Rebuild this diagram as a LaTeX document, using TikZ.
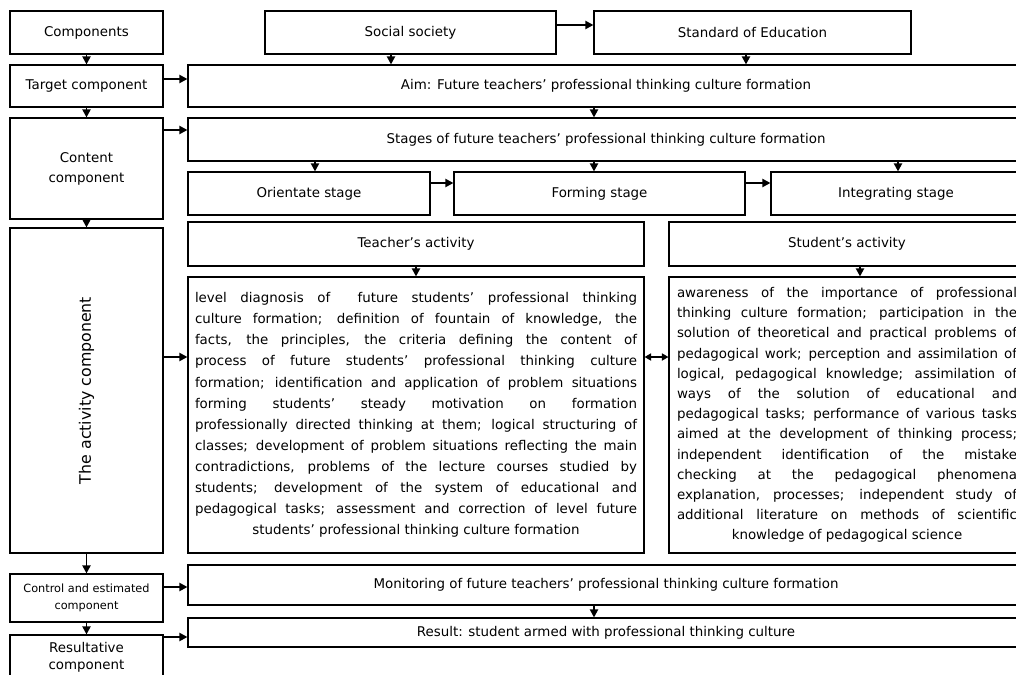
\documentclass[tikz,border=0pt]{standalone}
\usepackage{fontspec}
\setmainfont{DejaVu Sans}
\usetikzlibrary{arrows.meta}
\tolerance=10000 \hbadness=10000 \hyphenpenalty=10000
\newcommand\fsz{\fontsize{13.4}{20}\selectfont}
\begin{document}
\begin{tikzpicture}[x=1pt,y=-1pt,
  box/.style={draw, line width=1.1pt, inner sep=0pt, align=center, font=\fsz},
  arr/.style={line width=1.9pt,-{Triangle[length=8pt,width=8pt]}},
  darr/.style={line width=1.9pt,{Triangle[length=6.5pt,width=7pt]}-{Triangle[length=6.5pt,width=7pt]}},
  body/.style={draw, line width=1.1pt, inner ysep=0pt, align=justify},
]
\useasboundingbox (0,0) rectangle (1016,674);
\clip (0,0) rectangle (1016,674);
% left column
\node[box, minimum width=153pt, minimum height=43pt] (comp) at (86.5,32.5) {Components};
\node[box, minimum width=153pt, minimum height=42pt] (target) at (86.5,86) {Target component};
\node[box, minimum width=153pt, minimum height=101pt] (content) at (86.5,168.5) {Content\\component};
\node[box, minimum width=153pt, minimum height=325pt, font=\fontsize{15.8}{19}\selectfont] (activity) at (86.5,390.5) {\rotatebox{90}{The activity component}};
\node[box, minimum width=153pt, minimum height=48pt, font=\fontsize{11.3}{16.5}\selectfont] (control) at (86.5,598) {Control and estimated\\component};
\node[box, minimum width=153pt, minimum height=45pt, font=\fontsize{13.4}{16.5}\selectfont] (rcomp) at (86.5,657.5) {Resultative\\component};
% top row
\node[box, minimum width=291pt, minimum height=43pt] (social) at (410.5,32.5) {Social society};
\node[box, minimum width=317pt, minimum height=43pt] (standard) at (752.5,32.5) {Standard of Education};
\node[box, minimum width=836pt, minimum height=42pt] (aim) at (606,86) {Aim: Future teachers’ professional thinking culture formation};
\node[box, minimum width=836pt, minimum height=43pt] (stages) at (606,139.5) {Stages of future teachers’ professional thinking culture formation};
\node[box, minimum width=242pt, minimum height=43pt] (orient) at (309,193.5) {Orientate stage};
\node[box, minimum width=291pt, minimum height=43pt] (forming) at (599.5,193.5) {Forming stage};
\node[box, minimum width=250pt, minimum height=43pt] (integ) at (896,193.5) {Integrating stage};
\node[box, minimum width=456pt, minimum height=44pt] (tact) at (416,244) {Teacher’s activity};
\node[box, minimum width=356pt, minimum height=44pt] (sact) at (847,244) {Student’s activity};
% activity texts
\node[body, inner xsep=7pt, text width=442pt, minimum height=276pt, font=\fontsize{13.4}{21.1}\selectfont] (ttext) at (416,415) {%
level diagnosis of \ future students’ professional thinking\linebreak
culture formation; definition of fountain of knowledge, the\linebreak
facts, the principles, the criteria defining the content of\linebreak
process of future students’ professional thinking culture\linebreak
formation; identification and application of problem situations\linebreak
forming students’ steady motivation on formation\linebreak
professionally directed thinking at them; logical structuring of\linebreak
classes; development of problem situations reflecting the main\linebreak
contradictions, problems of the lecture courses studied by\linebreak
students; development of the system of educational and\linebreak
pedagogical tasks; assessment and correction of level future\parfillskip=0pt\par
{\centering students’ professional thinking culture formation\par}};
\node[body, inner xsep=8pt, text width=340pt, minimum height=276pt, font=\fontsize{13.4}{20.2}\selectfont] (stext) at (847,415) {%
awareness of the importance of professional\linebreak
thinking culture formation; participation in the\linebreak
solution of theoretical and practical problems of\linebreak
pedagogical work; perception and assimilation of\linebreak
logical, pedagogical knowledge; assimilation of\linebreak
ways of the solution of educational and\linebreak
pedagogical tasks; performance of various tasks\linebreak
aimed at the development of thinking process;\linebreak
independent identification of the mistake\linebreak
checking at the pedagogical phenomena\linebreak
explanation, processes; independent study of\linebreak
additional literature on methods of scientific\parfillskip=0pt\par
{\centering knowledge of pedagogical science\par}};
% bottom
\node[box, minimum width=836pt, minimum height=40pt] (monitor) at (606,585) {Monitoring of future teachers’ professional thinking culture formation};
\node[box, minimum width=836pt, minimum height=29pt] (result) at (606,632.5) {Result: student armed with professional thinking culture};
% left column arrows
\draw[arr] (comp) -- (target);
\draw[arr] (target) -- (content);
\draw[arr] (content) -- (activity);
\draw[arr] (activity) -- (control);
\draw[arr] (control) -- (rcomp);
% horizontal arrows from left column
\draw[arr] (target.east |- 0,79) -- (aim.west |- 0,79);
\draw[arr] (content.east |- 0,130) -- (stages.west |- 0,130);
\draw[arr] (activity.east |- 0,357) -- (ttext.west |- 0,357);
\draw[arr] (control.east |- 0,587) -- (monitor.west |- 0,587);
\draw[arr] (rcomp.east |- 0,637) -- (result.west |- 0,637);
% top arrows
\draw[arr] (social.east |- 0,25) -- (standard.west |- 0,25);
\draw[arr] (social.south -| 391,0) -- (aim.north -| 391,0);
\draw[arr] (standard.south -| 746,0) -- (aim.north -| 746,0);
\draw[arr] (aim.south -| 594,0) -- (stages.north -| 594,0);
\draw[arr] (stages.south -| 315,0) -- (orient.north -| 315,0);
\draw[arr] (stages.south -| 594,0) -- (forming.north -| 594,0);
\draw[arr] (stages.south -| 898,0) -- (integ.north -| 898,0);
\draw[arr] (orient.east |- 0,183) -- (forming.west |- 0,183);
\draw[arr] (forming.east |- 0,183) -- (integ.west |- 0,183);
\draw[arr] (tact) -- (ttext);
\draw[arr] (sact.south -| 860,0) -- (stext.north -| 860,0);
\draw[darr] (ttext.east |- 0,357) -- (stext.west |- 0,357);
\draw[arr] (monitor.south -| 594,0) -- (result.north -| 594,0);
\end{tikzpicture}
\end{document}
